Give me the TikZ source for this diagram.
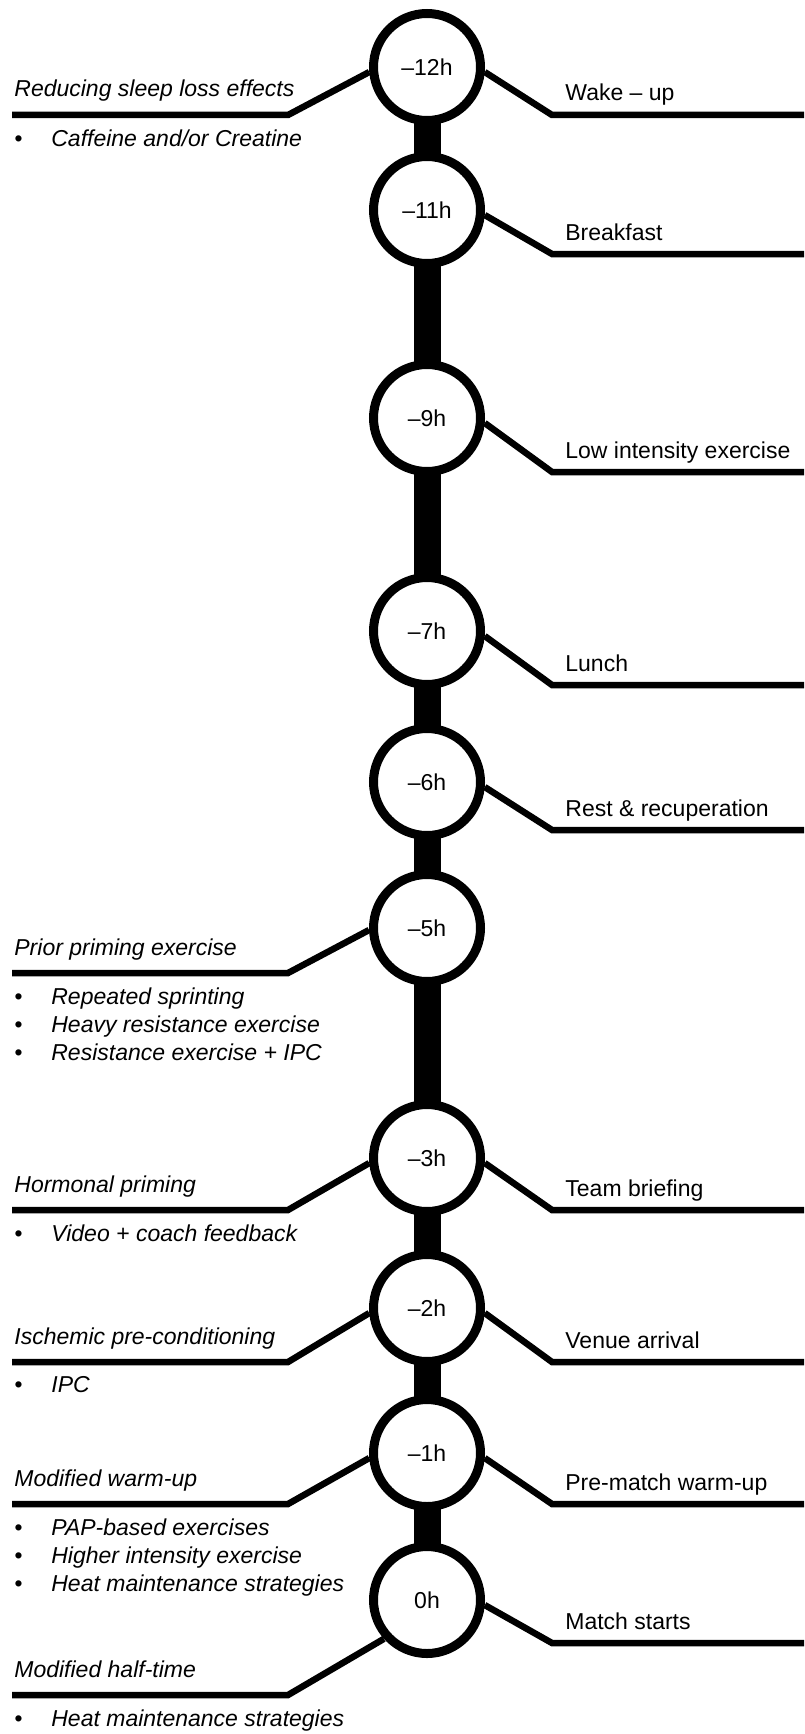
\documentclass[tikz,border=0pt]{standalone}
\usepackage{fontspec}
\setmainfont{Liberation Sans}
\usepackage{tikz}
\usetikzlibrary{backgrounds,calc}

\newcommand{\tlitem}{\makebox[18.5pt][l]{\textbullet}}

\begin{document}
\begin{tikzpicture}[
  x=0.5pt, y=-0.5pt,
  every node/.style={inner sep=0pt, font=\fontsize{11.5}{14}\selectfont},
  hour/.style={circle, draw=black, line width=4.5pt, fill=white, minimum size=53.5pt},
  spine/.style={line width=13.5pt},
  leader/.style={line width=3.25pt, line join=miter},
  event/.style={anchor=base west},
  action/.style={anchor=base west, font=\fontsize{11.5}{14}\selectfont\itshape},
  items/.style={anchor=north west, align=left, font=\fontsize{11.5}{14}\selectfont\itshape}
]
\useasboundingbox (0,0) rectangle (804,1734);
\coordinate (redge) at (804,0);
\coordinate (ledge) at (12,0);

\node[hour] (m12) at (427,67) {–12h};
\node[hour] (m11) at (427,210) {–11h};
\node[hour] (m9) at (427,418) {–9h};
\node[hour] (m7) at (427,631) {–7h};
\node[hour] (m6) at (427,782) {–6h};
\node[hour] (m5) at (427,928) {–5h};
\node[hour] (m3) at (427,1158) {–3h};
\node[hour] (m2) at (427,1308) {–2h};
\node[hour] (m1) at (427,1453) {–1h};
\node[hour] (h0) at (427,1600) {0h};

\begin{scope}[on background layer]
\draw[spine] (m12.center) -- (h0.center);
\end{scope}

% right side: the day
\coordinate (k12r) at (552,115);
\coordinate (k11r) at (552,254);
\coordinate (k9r) at (552,472);
\coordinate (k7r) at (552,685);
\coordinate (k6r) at (552,830);
\coordinate (k3r) at (552,1210);
\coordinate (k2r) at (552,1362);
\coordinate (k1r) at (552,1504);
\coordinate (k0r) at (552,1643);

\draw[leader] (m12.-5) -- (k12r) -- (k12r -| redge);
\draw[leader] (m11.-5) -- (k11r) -- (k11r -| redge);
\draw[leader] (m9.-5) -- (k9r) -- (k9r -| redge);
\draw[leader] (m7.-5) -- (k7r) -- (k7r -| redge);
\draw[leader] (m6.-5) -- (k6r) -- (k6r -| redge);
\draw[leader] (m3.-5) -- (k3r) -- (k3r -| redge);
\draw[leader] (m2.-5) -- (k2r) -- (k2r -| redge);
\draw[leader] (m1.-5) -- (k1r) -- (k1r -| redge);
\draw[leader] (h0.-5) -- (k0r) -- (k0r -| redge);

\node[event] (wake) at (565,101) {Wake – up};
\node[event] (breakfast) at (565,240) {Breakfast};
\node[event] (lowex) at (565,458) {Low intensity exercise};
\node[event] (lunch) at (565,671) {Lunch};
\node[event] (rest) at (565,816) {Rest \& recuperation};
\node[event] (brief) at (565,1196) {Team briefing};
\node[event] (venue) at (565,1348) {Venue arrival};
\node[event] (prewarm) at (565,1490) {Pre-match warm-up};
\node[event] (match) at (565,1629) {Match starts};

% left side: strategies
\coordinate (k12l) at (288,115);
\coordinate (k5l) at (288,973);
\coordinate (k3l) at (288,1210);
\coordinate (k2l) at (288,1362);
\coordinate (k1l) at (288,1504);
\coordinate (k0l) at (288,1695);

\draw[leader] (m12.185) -- (k12l) -- (k12l -| ledge);
\draw[leader] (m5.182) -- (k5l) -- (k5l -| ledge);
\draw[leader] (m3.185) -- (k3l) -- (k3l -| ledge);
\draw[leader] (m2.185) -- (k2l) -- (k2l -| ledge);
\draw[leader] (m1.185) -- (k1l) -- (k1l -| ledge);
\draw[leader] (h0.222) -- (k0l) -- (k0l -| ledge);

\node[action] (sleep) at (14,97) {Reducing sleep loss effects};
\node[items] (sleepi) at (14,129) {\tlitem Caffeine and/or Creatine};
\node[action] (prior) at (14,955) {Prior priming exercise};
\node[items] (priori) at (14,987) {\tlitem Repeated sprinting\\\tlitem Heavy resistance exercise\\\tlitem Resistance exercise + IPC};
\node[action] (hormone) at (14,1192) {Hormonal priming};
\node[items] (hormonei) at (14,1224) {\tlitem Video + coach feedback};
\node[action] (ischemic) at (14,1344) {Ischemic pre-conditioning};
\node[items] (ischemici) at (14,1376) {\tlitem IPC};
\node[action] (warmup) at (14,1486) {Modified warm-up};
\node[items] (warmupi) at (14,1518) {\tlitem PAP-based exercises\\\tlitem Higher intensity exercise\\\tlitem Heat maintenance strategies};
\node[action] (halftime) at (14,1677) {Modified half-time};
\node[items] (halftimei) at (14,1709) {\tlitem Heat maintenance strategies};
\end{tikzpicture}
\end{document}
